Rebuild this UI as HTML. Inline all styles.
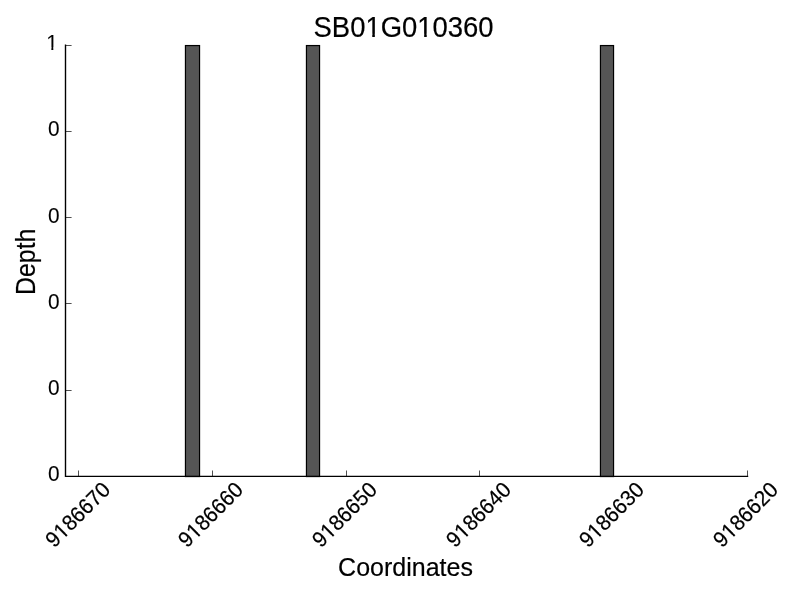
<!DOCTYPE html>
<html>
<head>
<meta charset="utf-8">
<title>SB01G010360</title>
<style>
html,body{margin:0;padding:0;background:#fff;width:800px;height:600px;overflow:hidden}
svg{display:block;position:absolute;left:0;top:0}
text{font-family:"Liberation Sans",sans-serif;fill:#000;stroke:#000;stroke-width:0.18px;stroke-linejoin:round}
</style>
</head>
<body>
<svg width="800" height="600" viewBox="0 0 800 600">
<rect x="0" y="0" width="800" height="600" fill="#fff"/>
<!-- bars -->
<g fill="#555555" stroke="#000" stroke-width="1.2">
<rect x="185.45" y="45.55" width="14.1" height="431"/>
<rect x="306.45" y="45.55" width="13.1" height="431"/>
<rect x="600.45" y="45.55" width="13.1" height="431"/>
</g>
<!-- ticks -->
<g stroke="#000" stroke-width="0.69" fill="none">
<path d="M78.5 476.5V470.5M212.5 476.5V470.5M346.5 476.5V470.5M479.5 476.5V470.5M613.5 476.5V470.5M747.5 476.5V470.5"/>
<path d="M65.5 45.5H71.6M65.5 131.5H71.6M65.5 217.5H71.6M65.5 303.5H71.6M65.5 390.5H71.6M65.5 476.5H71.6"/>
</g>
<!-- spines -->
<path d="M65.5 44.6V476.4H748.2" stroke="#000" stroke-width="1.39" fill="none" stroke-linejoin="miter"/>
<!-- y tick labels -->
<g transform="translate(57.75,50.10) scale(1.0,1.045)"><text x="-11.58" y="0.00" font-size="20.83" style="stroke-width:0.08px">1</text><rect x="-10.90" y="-2.56" width="4.50" height="3.66" fill="#fff"/><rect x="-4.44" y="-2.56" width="4.33" height="3.66" fill="#fff"/></g>
<g transform="translate(59.50,136.10) scale(1.0,1.045)"><text x="-11.58" y="0.00" font-size="20.83" style="stroke-width:0.08px">0</text></g>
<g transform="translate(59.50,223.10) scale(1.0,1.045)"><text x="-11.58" y="0.00" font-size="20.83" style="stroke-width:0.08px">0</text></g>
<g transform="translate(59.50,309.10) scale(1.0,1.045)"><text x="-11.58" y="0.00" font-size="20.83" style="stroke-width:0.08px">0</text></g>
<g transform="translate(59.50,395.10) scale(1.0,1.045)"><text x="-11.58" y="0.00" font-size="20.83" style="stroke-width:0.08px">0</text></g>
<g transform="translate(59.50,480.80) scale(1.0,1.045)"><text x="-11.58" y="0.00" font-size="20.83" style="stroke-width:0.08px">0</text></g>
<!-- x tick labels -->
<g transform="translate(77.60,514.50) rotate(-45) scale(1.0,1.045)"><text x="-40.55" y="7.20" font-size="20.83">9186670</text><rect x="-28.28" y="4.64" width="4.50" height="3.66" fill="#fff"/><rect x="-21.82" y="4.64" width="4.33" height="3.66" fill="#fff"/></g>
<g transform="translate(210.40,514.50) rotate(-45) scale(1.0,1.045)"><text x="-40.55" y="7.20" font-size="20.83">9186660</text><rect x="-28.28" y="4.64" width="4.50" height="3.66" fill="#fff"/><rect x="-21.82" y="4.64" width="4.33" height="3.66" fill="#fff"/></g>
<g transform="translate(344.40,514.50) rotate(-45) scale(1.0,1.045)"><text x="-40.55" y="7.20" font-size="20.83">9186650</text><rect x="-28.28" y="4.64" width="4.50" height="3.66" fill="#fff"/><rect x="-21.82" y="4.64" width="4.33" height="3.66" fill="#fff"/></g>
<g transform="translate(478.40,514.50) rotate(-45) scale(1.0,1.045)"><text x="-40.55" y="7.20" font-size="20.83">9186640</text><rect x="-28.28" y="4.64" width="4.50" height="3.66" fill="#fff"/><rect x="-21.82" y="4.64" width="4.33" height="3.66" fill="#fff"/></g>
<g transform="translate(611.40,514.50) rotate(-45) scale(1.0,1.045)"><text x="-40.55" y="7.20" font-size="20.83">9186630</text><rect x="-28.28" y="4.64" width="4.50" height="3.66" fill="#fff"/><rect x="-21.82" y="4.64" width="4.33" height="3.66" fill="#fff"/></g>
<g transform="translate(745.40,514.50) rotate(-45) scale(1.0,1.045)"><text x="-40.55" y="7.20" font-size="20.83">9186620</text><rect x="-28.28" y="4.64" width="4.50" height="3.66" fill="#fff"/><rect x="-21.82" y="4.64" width="4.33" height="3.66" fill="#fff"/></g>
<!-- title and axis labels -->
<g transform="translate(403.60,37.10) scale(0.995,1.068)"><text x="-90.54" y="0.00" font-size="27.6">SB01G010360</text><rect x="-37.31" y="-3.17" width="5.80" height="4.27" fill="#fff"/><rect x="-28.91" y="-3.17" width="5.58" height="4.27" fill="#fff"/><rect x="14.86" y="-3.17" width="5.80" height="4.27" fill="#fff"/><rect x="23.25" y="-3.17" width="5.58" height="4.27" fill="#fff"/></g>
<g transform="translate(405.50,576.00) scale(1.0,1.068)"><text x="-67.40" y="0.00" font-size="25">Coordinates</text></g>
<g transform="translate(35.10,261.80) rotate(-90) scale(0.995,1.078)"><text x="-33.36" y="0.00" font-size="25">Depth</text></g>
</svg>
</body>
</html>
